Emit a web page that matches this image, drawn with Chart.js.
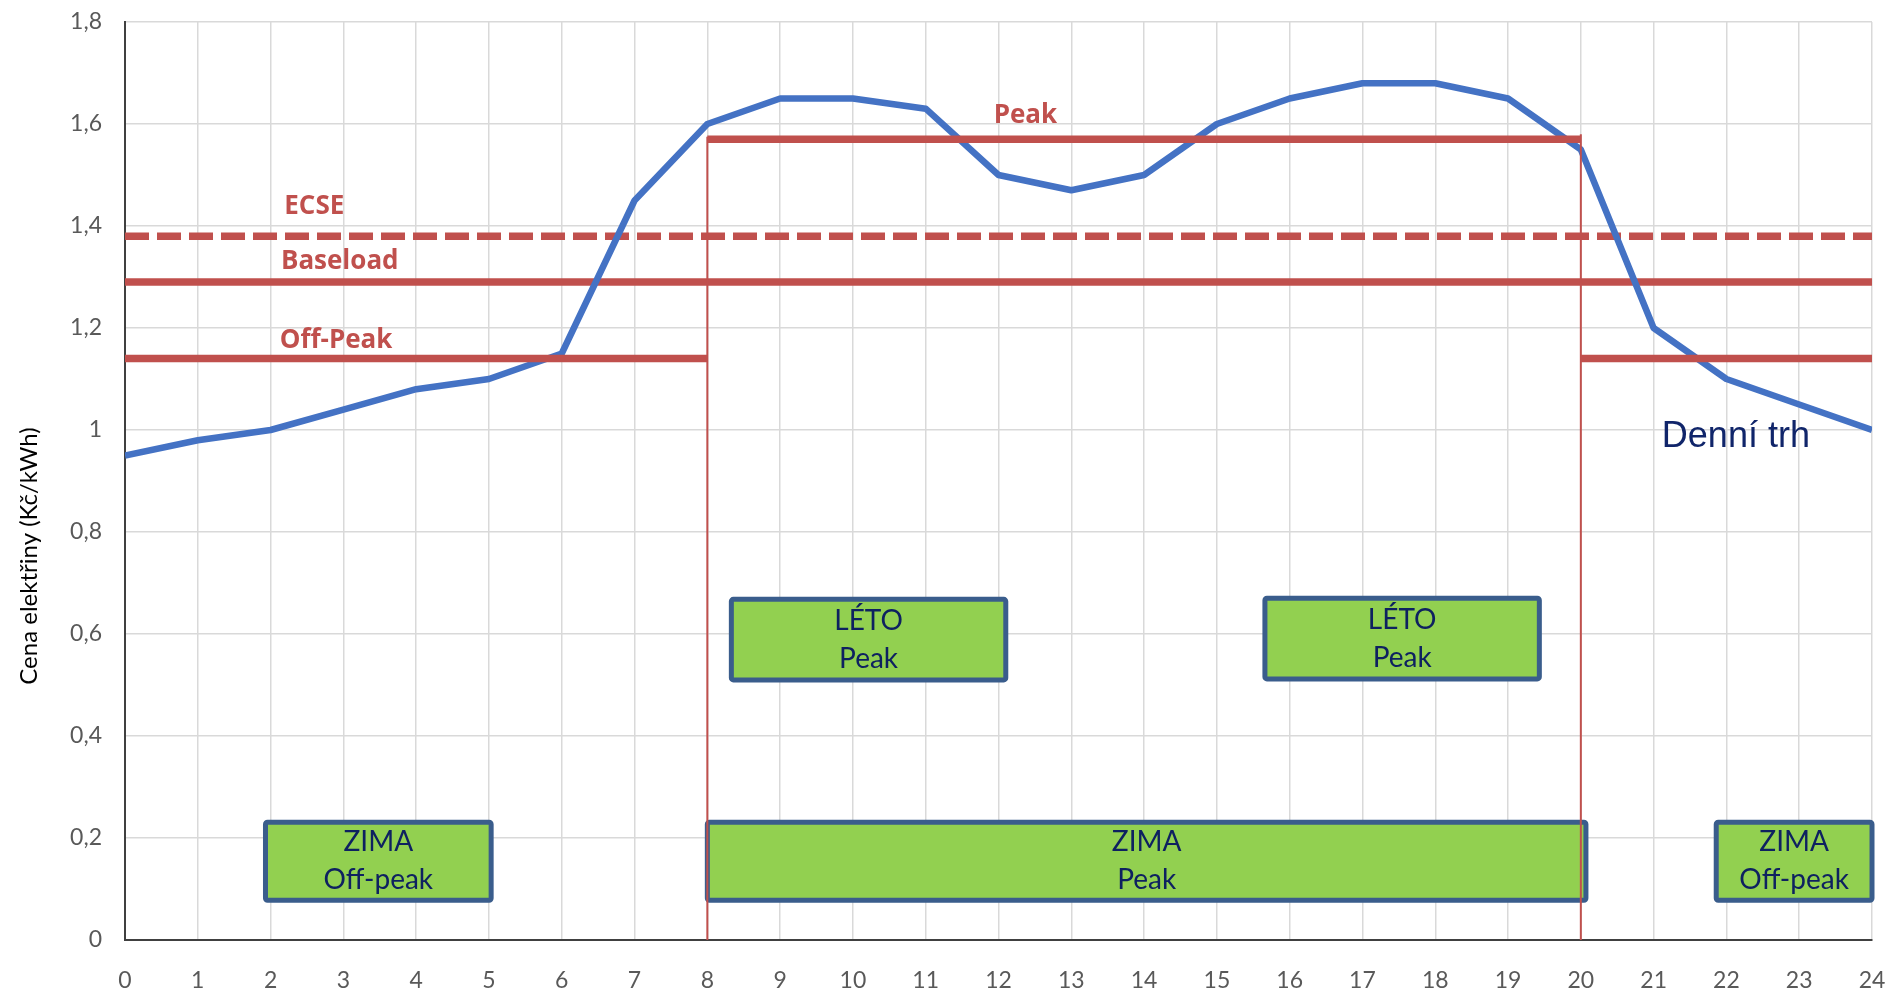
<!DOCTYPE html>
<html>
<head>
<meta charset="utf-8">
<script src="https://cdn.jsdelivr.net/npm/chart.js@4/dist/chart.umd.min.js"></script>
<style>
  html, body { margin: 0; padding: 0; background: #ffffff; }
  canvas { display: block; }
</style>
</head>
<body>
<canvas id="chart" width="1890" height="988"></canvas>
<script>
// Hodiny dne a cena na denním trhu (Kč/kWh)
const hours = [0, 1, 2, 3, 4, 5, 6, 7, 8, 9, 10, 11, 12, 13, 14, 15, 16, 17, 18, 19, 20, 21, 22, 23, 24];
const dayMarket = [0.95, 0.98, 1.00, 1.04, 1.08, 1.10, 1.15, 1.45, 1.60, 1.65, 1.65, 1.63, 1.50, 1.47, 1.50, 1.60, 1.65, 1.68, 1.68, 1.65, 1.55, 1.20, 1.10, 1.05, 1.00];

// Úrovně produktů
const ecsePrice = 1.38;
const baseloadPrice = 1.29;
const offPeakPrice = 1.14;
const peakPrice = 1.57;

// Hranice špičky (hodiny)
const peakStart = 8;
const peakEnd = 20;

// Popisky osy Y
const yTickLabels = ['0', '0,2', '0,4', '0,6', '0,8', '1', '1,2', '1,4', '1,6', '1,8'];

// Období (od, do v hodinách; spodní a horní hodnota)
const seasonBoxes = [
  { from: 1.93, to: 5.03, low: 0.078, high: 0.231, lines: ['ZIMA', 'Off-peak'] },
  { from: 8.0, to: 20.07, low: 0.078, high: 0.231, lines: ['ZIMA', 'Peak'] },
  { from: 21.86, to: 24.0, low: 0.078, high: 0.231, lines: ['ZIMA', 'Off-peak'] },
  { from: 8.33, to: 12.1, low: 0.510, high: 0.668, lines: ['LÉTO', 'Peak'] },
  { from: 15.66, to: 19.43, low: 0.512, high: 0.670, lines: ['LÉTO', 'Peak'] }
];

const RED = '#C0504D';
const BLUE = '#4472C4';
const FONT = 'Lato, "Open Sans", "Liberation Sans", sans-serif';
const LABEL_FONT = '"Open Sans", Lato, sans-serif';
const NO_COLOR = 'rgba(0,0,0,0)';

function flat(from, to, value) {
  return [{ x: from, y: value }, { x: to, y: value }];
}

const lineLabels = [
  { text: 'ECSE', x: 2.6, y: 1.438 },
  { text: 'Baseload', x: 2.95, y: 1.330 },
  { text: 'Off-Peak', x: 2.9, y: 1.176 },
  { text: 'Peak', x: 12.37, y: 1.616 }
];

const overlayPlugin = {
  id: 'overlay',
  beforeDatasetsDraw(chart) {
    const { ctx, scales: { x, y } } = chart;
    ctx.save();
    seasonBoxes.forEach(b => {
      const x0 = x.getPixelForValue(b.from);
      const x1 = x.getPixelForValue(b.to);
      const y0 = y.getPixelForValue(b.high);
      const y1 = y.getPixelForValue(b.low);
      ctx.beginPath();
      ctx.roundRect(x0, y0, x1 - x0, y1 - y0, 2);
      ctx.fillStyle = '#92D050';
      ctx.fill();
      ctx.lineWidth = 5;
      ctx.strokeStyle = '#3A5D8C';
      ctx.stroke();
      ctx.fillStyle = '#0E2160';
      ctx.font = '28px ' + FONT;
      ctx.textAlign = 'center';
      ctx.textBaseline = 'middle';
      const cx = (x0 + x1) / 2;
      const cy = (y0 + y1) / 2;
      ctx.fillText(b.lines[0], cx, cy - 19);
      ctx.fillText(b.lines[1], cx, cy + 19);
    });
    ctx.restore();
  },
  afterDatasetsDraw(chart) {
    const { ctx, scales: { x, y } } = chart;
    ctx.save();
    ctx.textAlign = 'center';
    ctx.textBaseline = 'middle';
    ctx.fillStyle = RED;
    ctx.font = 'bold 26px ' + LABEL_FONT;
    lineLabels.forEach(l => {
      ctx.fillText(l.text, x.getPixelForValue(l.x), y.getPixelForValue(l.y));
    });
    ctx.fillStyle = '#10256A';
    ctx.font = '36px "Liberation Sans", Arial, sans-serif';
    ctx.fillText('Denní trh', x.getPixelForValue(22.13), y.getPixelForValue(0.987));
    // Název osy Y
    ctx.translate(29, 556);
    ctx.rotate(-Math.PI / 2);
    ctx.fillStyle = '#000000';
    ctx.font = '24px ' + FONT;
    ctx.fillText('Cena elektřiny (Kč/kWh)', 0, 0);
    ctx.restore();
  }
};

new Chart(document.getElementById('chart'), {
  type: 'line',
  data: {
    datasets: [
      { data: flat(peakStart, peakEnd, peakPrice), borderColor: RED, borderWidth: 7.5 },
      { data: flat(0, peakStart, offPeakPrice), borderColor: RED, borderWidth: 7.5 },
      { data: flat(peakEnd, 24, offPeakPrice), borderColor: RED, borderWidth: 7.5 },
      { data: [{ x: peakStart, y: 0 }, { x: peakStart, y: peakPrice + 0.005 }], borderColor: RED, borderWidth: 2 },
      { data: [{ x: peakEnd, y: 0 }, { x: peakEnd, y: peakPrice + 0.01 }], borderColor: RED, borderWidth: 2 },
      {
        label: 'Denní trh',
        data: hours.map((h, i) => ({ x: h, y: dayMarket[i] })),
        borderColor: BLUE,
        borderWidth: 6.5,
        borderJoinStyle: 'round',
        tension: 0
      },
      { data: flat(0, 24, baseloadPrice), borderColor: RED, borderWidth: 7.5 },
      { data: flat(0, 24, ecsePrice), borderColor: RED, borderWidth: 7.5, borderDash: [24, 8] }
    ]
  },
  options: {
    responsive: false,
    animation: false,
    events: [],
    elements: { point: { radius: 0 }, line: { fill: false, borderCapStyle: 'butt' } },
    layout: { padding: { top: 22, right: 18, left: 0, bottom: 0 } },
    plugins: { legend: { display: false }, tooltip: { enabled: false } },
    scales: {
      x: {
        type: 'linear',
        min: 0,
        max: 24,
        ticks: { stepSize: 1, color: '#595959', font: { family: FONT, size: 23 }, padding: 1 },
        grid: { color: '#D9D9D9', lineWidth: 1.5, drawTicks: true, tickLength: 26, tickColor: NO_COLOR },
        border: { color: '#404040', width: 2 },
        afterFit(s) { s.height = 48; }
      },
      y: {
        min: 0,
        max: 1.8,
        ticks: {
          stepSize: 0.2,
          color: '#595959',
          font: { family: FONT, size: 23 },
          padding: 1,
          callback: (v, i) => yTickLabels[i]
        },
        grid: { color: '#D9D9D9', lineWidth: 1.5, drawTicks: true, tickLength: 22, tickColor: NO_COLOR },
        border: { color: '#404040', width: 2 },
        afterFit(s) { s.width = 125; }
      }
    }
  },
  plugins: [overlayPlugin]
});
</script>
</body>
</html>
